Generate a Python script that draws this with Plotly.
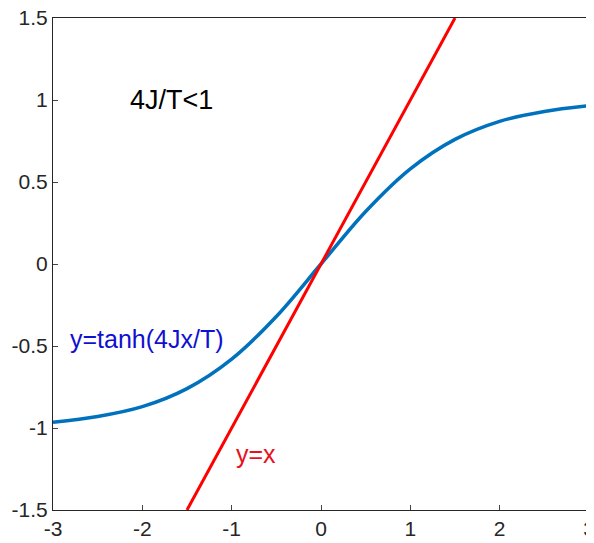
import plotly.graph_objects as go

# Curve values
curve_x = [-3.0, -2.5, -2.0, -1.5, -1.0, -0.5, 0.0, 0.5, 1.0, 1.5, 2.0, 2.5, 3.0]
curve_y = [-0.965, -0.93, -0.87, -0.76, -0.58, -0.32, 0.0, 0.32, 0.58, 0.76, 0.87, 0.93, 0.965]

line_x = [-1.5, 1.5]
line_y = [-1.5, 1.5]

x_ticks = [-3, -2, -1, 0, 1, 2, 3]
x_tick_labels = ["-3", "-2", "-1", "0", "1", "2", "3"]
y_ticks = [-1.5, -1, -0.5, 0, 0.5, 1, 1.5]
y_tick_labels = ["-1.5", "-1", "-0.5", "0", "0.5", "1", "1.5"]

FONT = "Arial, Liberation Sans, sans-serif"

fig = go.Figure()
fig.add_trace(go.Scatter(x=curve_x, y=curve_y, mode="lines",
                         line=dict(color="#0072BD", width=3.5, shape="spline", smoothing=1.0),
                         showlegend=False, hoverinfo="skip"))
fig.add_trace(go.Scatter(x=line_x, y=line_y, mode="lines",
                         line=dict(color="#FF0000", width=3),
                         showlegend=False, hoverinfo="skip"))

fig.add_annotation(x=-2.16, y=1.0, text="4J/T&lt;1", showarrow=False, xanchor="left",
                   yanchor="middle", font=dict(family=FONT, size=27, color="black"))
fig.add_annotation(x=-2.83, y=-0.46, text="y=tanh(4Jx/T)", showarrow=False, xanchor="left",
                   yanchor="middle", font=dict(family=FONT, size=25, color="#1010D0"))
fig.add_annotation(x=-0.97, y=-1.16, text="y=x", showarrow=False, xanchor="left",
                   yanchor="middle", font=dict(family=FONT, size=25, color="#E8101C"))

fig.update_layout(
    width=586, height=535,
    margin=dict(l=45, r=5, t=10, b=33),
    plot_bgcolor="white", paper_bgcolor="white",
    font=dict(family=FONT, size=21, color="#262626"),
)
fig.update_xaxes(range=[-3, 3], tickvals=x_ticks, ticktext=x_tick_labels, ticks="inside",
                 ticklen=5, tickcolor="#444", ticklabeloverflow="allow",
                 showgrid=False, zeroline=False, showline=True, linecolor="#262626", linewidth=1.2,
                 mirror=True, automargin=False)
fig.update_yaxes(range=[-1.5, 1.5], tickvals=y_ticks, ticktext=y_tick_labels, ticks="inside",
                 ticklen=5, tickcolor="#444", ticklabeloverflow="allow",
                 showgrid=False, zeroline=False, showline=True,
                 linecolor="#262626", linewidth=1.2, mirror=True, automargin=False)

fig.write_html("out.html")
